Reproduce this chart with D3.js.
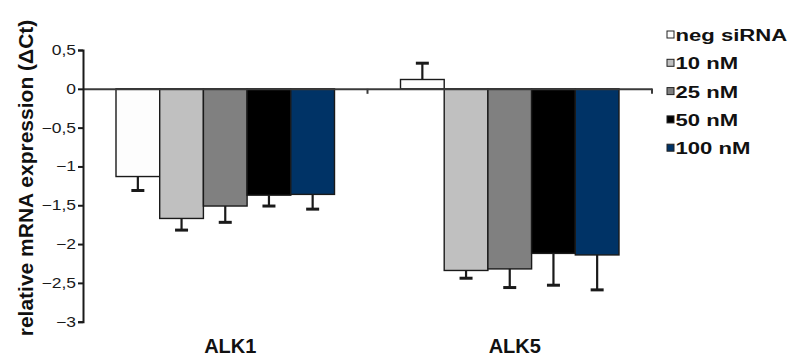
<!DOCTYPE html>
<html>
<head>
<meta charset="utf-8">
<script src="https://cdn.jsdelivr.net/npm/d3@7"></script>
<style>
  html, body { margin: 0; padding: 0; background: #fff; }
  svg { display: block; font-family: "Liberation Sans", Arial, sans-serif; }
</style>
</head>
<body>
<svg id="chart" width="790" height="358"></svg>
<script>
// Knockdown of ALK1 / ALK5 by siRNA dose, mean ΔCt with one-sided error bars
const categories = ["ALK1", "ALK5"];
const series = ["neg siRNA", "10 nM", "25 nM", "50 nM", "100 nM"];
const seriesColors = ["#fdfdfd", "#c0c0c0", "#808080", "#000000", "#003366"];
const alk1Means = [-1.13, -1.67, -1.51, -1.37, -1.36];
const alk1Errors = [0.18, 0.15, 0.21, 0.14, 0.19];
const alk5Means = [0.12, -2.34, -2.32, -2.12, -2.14];
const alk5Errors = [0.21, 0.10, 0.24, 0.41, 0.45];
const yTicks = [0.5, 0, -0.5, -1, -1.5, -2, -2.5, -3];

const meansByCategory = { ALK1: alk1Means, ALK5: alk5Means };
const errorsByCategory = { ALK1: alk1Errors, ALK5: alk5Errors };

const rows = [];
categories.forEach(cat => {
  series.forEach((s, i) => {
    rows.push({ cat, s, i, v: meansByCategory[cat][i], e: errorsByCategory[cat][i] });
  });
});

const svg = d3.select("#chart");
const plot = { left: 83, right: 652, top: 50, bottom: 321.7 };

const y = d3.scaleLinear().domain([-3, 0.5]).range([plot.bottom, plot.top]);
const x0 = d3.scaleBand().domain(categories).range([plot.left, plot.right]);
const x1 = d3.scaleBand().domain(series).range([33, x0.bandwidth() - 33]);
const color = d3.scaleOrdinal().domain(series).range(seriesColors);

const fmt = v => d3.format("")(v).replace(".", ",");

// Bars
const g = svg.append("g");
g.selectAll("rect.bar")
  .data(rows)
  .join("rect")
  .attr("class", "bar")
  .attr("x", d => x0(d.cat) + x1(d.s))
  .attr("width", x1.bandwidth())
  .attr("y", d => y(Math.max(0, d.v)))
  .attr("height", d => Math.abs(y(d.v) - y(0)))
  .attr("fill", d => color(d.s))
  .attr("stroke", "#1a1a1a")
  .attr("stroke-width", 1.4);

// Error bars (pointing away from zero)
const err = g.selectAll("g.err").data(rows).join("g").attr("class", "err");
const cx = d => x0(d.cat) + x1(d.s) + x1.bandwidth() / 2;
const tip = d => y(d.v + Math.sign(d.v) * d.e);
err.append("line")
  .attr("x1", cx).attr("x2", cx)
  .attr("y1", d => y(d.v)).attr("y2", tip)
  .attr("stroke", "#1a1a1a").attr("stroke-width", 2.2);
err.append("line")
  .attr("x1", d => cx(d) - 6.5).attr("x2", d => cx(d) + 6.5)
  .attr("y1", tip).attr("y2", tip)
  .attr("stroke", "#1a1a1a").attr("stroke-width", 3);

// Zero line with category-boundary ticks
const xAxis = d3.axisBottom(x0).tickSize(0).tickFormat("");
const xg = svg.append("g").attr("transform", `translate(0,${y(0)})`).call(xAxis);
xg.select(".domain").attr("stroke", "#3a3a3a").attr("stroke-width", 2);
xg.selectAll(".tick").remove();
xg.selectAll("line.bound")
  .data(categories.map(c => x0(c) + x0.bandwidth()))
  .join("line")
  .attr("class", "bound")
  .attr("x1", d => d).attr("x2", d => d)
  .attr("y1", 0).attr("y2", 5)
  .attr("stroke", "#3a3a3a").attr("stroke-width", 2);

// Category labels
svg.selectAll("text.cat")
  .data(categories)
  .join("text")
  .attr("class", "cat")
  .attr("x", d => x0(d) + x0.bandwidth() / 2 + 5)
  .attr("y", 353)
  .attr("text-anchor", "middle")
  .attr("font-weight", "bold")
  .attr("font-size", 20)
  .attr("fill", "#111")
  .text(d => d);

// Y axis
const yAxis = d3.axisLeft(y).tickValues(yTicks).tickSize(5).tickFormat(fmt);
const yg = svg.append("g").attr("transform", `translate(${plot.left},0)`).call(yAxis);
yg.select(".domain").attr("stroke", "#1a1a1a").attr("stroke-width", 2);
yg.selectAll(".tick line").attr("stroke", "#1a1a1a").attr("stroke-width", 2);
yg.selectAll(".tick text")
  .attr("x", 0)
  .attr("transform", "translate(-7,0) scale(1.25,1)")
  .attr("font-size", 14)
  .attr("font-family", "'Liberation Sans', Arial, sans-serif")
  .attr("fill", "#1a1a1a");

// Y axis title
svg.append("text")
  .attr("transform", "translate(33,178) rotate(-90)")
  .attr("text-anchor", "middle")
  .attr("font-weight", "bold")
  .attr("font-size", 21)
  .attr("fill", "#111")
  .text("relative mRNA expression (ΔCt)");

// Legend
const legend = svg.append("g").attr("transform", "translate(667,35)");
const item = legend.selectAll("g.item")
  .data(series)
  .join("g")
  .attr("class", "item")
  .attr("transform", (d, i) => `translate(0,${i * 28.3})`);
item.append("rect")
  .attr("x", 0).attr("y", -4)
  .attr("width", 7).attr("height", 7)
  .attr("fill", d => color(d))
  .attr("stroke", "#222").attr("stroke-width", 1);
item.append("text")
  .attr("transform", "translate(8.5,0) scale(1.3,1)")
  .attr("dy", "0.36em")
  .attr("font-weight", "bold")
  .attr("font-size", 17)
  .attr("fill", "#111")
  .text(d => d);
</script>
</body>
</html>
